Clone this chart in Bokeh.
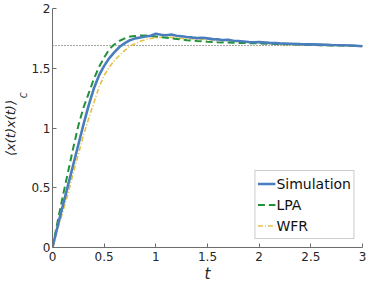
from bokeh.plotting import figure
from bokeh.models import FixedTicker, Legend, LegendItem, Title
from bokeh.embed import file_html
from bokeh.resources import INLINE

# ---- data ----
t_sim = [0, 0.05, 0.1, 0.15, 0.2, 0.25, 0.3, 0.35, 0.4, 0.45, 0.5, 0.55, 0.6, 0.65, 0.7,
         0.75, 0.8, 0.85, 0.9, 0.95, 1.0, 1.05, 1.1, 1.15, 1.2, 1.25, 1.3, 1.35, 1.4, 1.45,
         1.5, 1.55, 1.6, 1.65, 1.7, 1.75, 1.8, 1.85, 1.9, 1.95, 2.0, 2.1, 2.2, 2.3, 2.4,
         2.5, 2.6, 2.7, 2.8, 2.9, 3.0]
v_sim = [0, 0.18, 0.35, 0.52, 0.69, 0.86, 1.03, 1.19, 1.33, 1.44, 1.52, 1.585, 1.635, 1.68, 1.71,
         1.735, 1.75, 1.758, 1.765, 1.772, 1.788, 1.78, 1.776, 1.782, 1.772, 1.768, 1.762, 1.758, 1.752, 1.755,
         1.75, 1.744, 1.742, 1.735, 1.738, 1.73, 1.728, 1.724, 1.72, 1.718, 1.72, 1.712, 1.708, 1.705, 1.702,
         1.70, 1.698, 1.694, 1.692, 1.69, 1.684]

t_lpa = [0, 0.05, 0.1, 0.15, 0.2, 0.25, 0.3, 0.35, 0.4, 0.45, 0.5, 0.55, 0.6, 0.65, 0.7,
         0.75, 0.8, 0.85, 0.9, 0.95, 1.0, 1.05, 1.1, 1.15, 1.2, 1.25, 1.3, 1.4, 1.5, 1.6,
         1.7, 1.8, 1.9, 2.0, 2.1, 2.2, 2.3, 2.4, 2.5, 2.6, 2.7, 2.8, 2.9, 3.0]
v_lpa = [0, 0.22, 0.43, 0.63, 0.83, 1.02, 1.17, 1.29, 1.41, 1.51, 1.59, 1.66, 1.70, 1.73, 1.75,
         1.765, 1.77, 1.775, 1.775, 1.77, 1.766, 1.76, 1.755, 1.75, 1.745, 1.74, 1.735, 1.728, 1.722, 1.718,
         1.715, 1.712, 1.71, 1.708, 1.705, 1.70, 1.70, 1.698, 1.695, 1.693, 1.69, 1.69, 1.688, 1.686]

t_wfr = [0, 0.05, 0.1, 0.15, 0.2, 0.25, 0.3, 0.35, 0.4, 0.45, 0.5, 0.55, 0.6, 0.65, 0.7,
         0.75, 0.8, 0.85, 0.9, 0.95, 1.0, 1.05, 1.1, 1.15, 1.2, 1.25, 1.3, 1.4, 1.5, 1.6,
         1.7, 1.8, 1.9, 2.0, 2.1, 2.2, 2.3, 2.4, 2.5, 2.6, 2.7, 2.8, 2.9, 3.0]
v_wfr = [0, 0.15, 0.30, 0.45, 0.62, 0.78, 0.94, 1.08, 1.21, 1.34, 1.44, 1.51, 1.565, 1.61, 1.65,
         1.685, 1.705, 1.725, 1.74, 1.75, 1.755, 1.76, 1.76, 1.758, 1.755, 1.75, 1.748, 1.744, 1.74, 1.735,
         1.73, 1.72, 1.715, 1.71, 1.705, 1.70, 1.70, 1.695, 1.695, 1.69, 1.69, 1.69, 1.687, 1.685]

steady_state = 1.69

x_ticks = [0, 0.5, 1, 1.5, 2, 2.5, 3]
x_tick_labels = ["0", "0.5", "1", "1.5", "2", "2.5", "3"]
y_ticks = [0, 0.5, 1, 1.5, 2]
y_tick_labels = ["0", "0.5", "1", "1.5", "2"]

series_names = ["Simulation", "LPA", "WFR"]
y_label = "⟨x(t)x(t)⟩"
y_label_sub = "C"
x_label = "t"

FONT = "DejaVu Sans"
AXIS_COLOR = "#6e6e6e"
TEXT_COLOR = "#262626"

p = figure(width=366, height=285, x_range=(0, 3), y_range=(0, 2),
           output_backend="svg", toolbar_location=None,
           min_border_left=46, min_border_right=4, min_border_top=8, min_border_bottom=32)
p.outline_line_color = None
p.grid.visible = False
p.background_fill_color = "white"

for ax, ticks, labels in ((p.xaxis[0], x_ticks, x_tick_labels), (p.yaxis[0], y_ticks, y_tick_labels)):
    ax.ticker = FixedTicker(ticks=ticks)
    ax.major_label_overrides = {t: l for t, l in zip(ticks, labels)}
    ax.major_tick_in = 4
    ax.major_tick_out = 0
    ax.minor_tick_line_color = None
    ax.axis_line_color = AXIS_COLOR
    ax.major_tick_line_color = AXIS_COLOR
    ax.major_label_text_font = FONT
    ax.major_label_text_font_size = "12px"
    ax.major_label_text_color = TEXT_COLOR

p.xaxis.major_label_standoff = 4
p.yaxis.major_label_standoff = 2

p.xaxis.axis_label = x_label
p.xaxis.axis_label_text_font = FONT
p.xaxis.axis_label_text_font_style = "italic"
p.xaxis.axis_label_text_font_size = "15px"
p.xaxis.axis_label_standoff = 1
p.xaxis.axis_label_text_color = TEXT_COLOR

# y label: subscript column next to the ticks, main text further left
sub_title = Title(text=y_label_sub, align="right", offset=84, standoff=0,
                  text_font=FONT, text_font_style="italic", text_font_size="8px",
                  text_color=TEXT_COLOR)
main_title = Title(text=y_label, align="center", standoff=0,
                   text_font=FONT, text_font_style="italic", text_font_size="13px",
                   text_color=TEXT_COLOR)
p.add_layout(sub_title, "left")
p.add_layout(main_title, "left")

# steady state dotted line
p.line([0, 3], [steady_state, steady_state], line_color="#333333", line_width=0.9, line_dash="1 2")

r_wfr = p.line(t_wfr, v_wfr, line_color="#e3c143", line_width=1.6, line_dash="5 2 1 2")
r_lpa = p.line(t_lpa, v_lpa, line_color="#22923a", line_width=2, line_dash="7 4")
r_sim = p.line(t_sim, v_sim, line_color="#4a7dbd", line_width=2.6)

legend = Legend(items=[LegendItem(label=series_names[0], renderers=[r_sim]),
                       LegendItem(label=series_names[1], renderers=[r_lpa]),
                       LegendItem(label=series_names[2], renderers=[r_wfr])],
                location="bottom_right")
legend.label_text_font = FONT
legend.label_text_font_size = "14px"
legend.label_text_color = "#111111"
legend.glyph_width = 18
legend.glyph_height = 21
legend.label_height = 21
legend.label_standoff = 1
legend.spacing = 0
legend.padding = 2
legend.margin = 8
legend.border_line_color = "#9a9a9a"
legend.border_line_width = 1
legend.background_fill_alpha = 1
p.add_layout(legend, "center")

open("out.html", "w").write(file_html(p, INLINE))
